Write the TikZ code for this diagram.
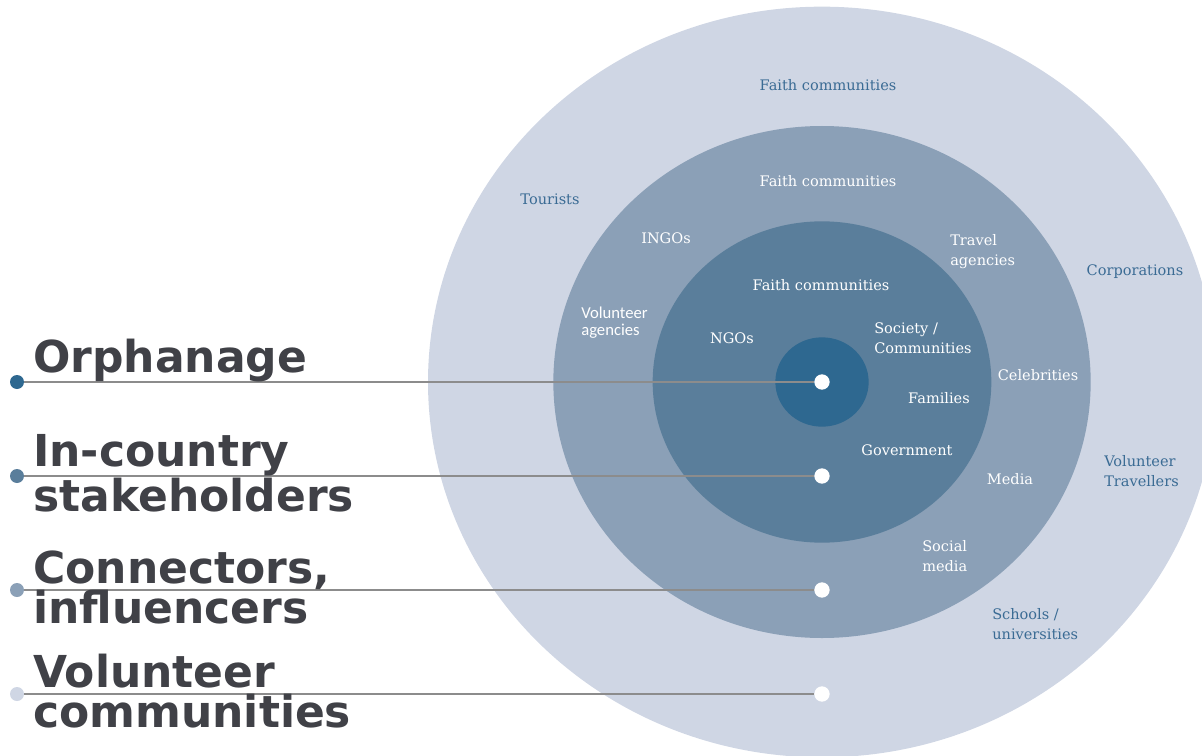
\documentclass[tikz,border=0pt]{standalone}
\usepackage{fontspec}
\setmainfont{DejaVu Serif}
\newfontfamily\headfont{DejaVu Sans}
\newfontfamily\sansfont{Carlito}
\usetikzlibrary{positioning}

\definecolor{core}{HTML}{2E6890}
\definecolor{inring}{HTML}{5A7E9B}
\definecolor{midring}{HTML}{8BA0B7}
\definecolor{outring}{HTML}{CFD6E4}
\definecolor{outtext}{HTML}{3A6B94}
\definecolor{headgray}{HTML}{404147}
\definecolor{linegray}{HTML}{8C8C8C}

\tikzset{
  lvl/.style={circle, fill=#1, minimum size=10.5pt, inner sep=0pt},
  hub/.style={circle, fill=white, minimum size=11.5pt, inner sep=0pt},
  lvlline/.style={linegray, line width=1.1pt},
  head/.style={anchor=base west, inner sep=0pt, align=left, text=headgray,
    font=\headfont\bfseries\fontsize{33}{30}\selectfont},
  who/.style={inner sep=0pt, align=left, font=\fontsize{10.9}{15}\selectfont},
  whoin/.style={who, text=white},
  whoout/.style={who, text=outtext}
}

\begin{document}
\begin{tikzpicture}[x=0.75pt, y=-0.75pt]
\useasboundingbox (0,0) rectangle (1202,756);
\clip (0,0) rectangle (1202,756);

% rings, outside in
\fill[outring] (822,382) ellipse [x radius=295.5pt, y radius=281.5pt];
\fill[midring] (822,382) ellipse [x radius=201.5pt, y radius=192pt];
\fill[inring] (822,382) ellipse [x radius=127pt, y radius=120.5pt];
\fill[core] (822,382) ellipse [x radius=35pt, y radius=33.5pt];

% outer ring
\node[whoout] (faith3) at (828,85) {Faith communities};
\node[whoout] (tourists) at (550,199) {Tourists};
\node[whoout] (corp) at (1135,272) {Corporations};
\node[whoout, anchor=west] (voltrav) at (1104,471) {Volunteer\\Travellers};
\node[whoout, anchor=west] (schools) at (992,624) {Schools /\\universities};

% middle ring
\node[whoin] (faith2) at (828,181) {Faith communities};
\node[whoin] (ingos) at (666,238) {INGOs};
\node[whoin, anchor=west, font=\sansfont\fontsize{12.5}{12.8}\selectfont] (volag) at (581,323) {Volunteer\\agencies};
\node[whoin, anchor=west] (travel) at (950,252) {Travel\\agencies};
\node[whoin] (celeb) at (1038,375) {Celebrities};
\node[whoin] (media) at (1010,479) {Media};
\node[whoin, anchor=west] (social) at (922,556) {Social\\media};

% inner ring
\node[whoin] (faith1) at (821,285) {Faith communities};
\node[whoin] (ngos) at (732,338) {NGOs};
\node[whoin, anchor=west] (society) at (874,338) {Society /\\Communities};
\node[whoin] (families) at (939,398) {Families};
\node[whoin] (govt) at (907,450) {Government};

% legend dots and the hubs they point at
\node[lvl=core] (orph) at (17,382) {};
\node[lvl=inring] (incountry) at (17,476) {};
\node[lvl=midring] (connect) at (17,590) {};
\node[lvl=outring] (volcomm) at (17,694) {};
\node[hub] (orph-hub) at (822,382) {};
\node[hub] (incountry-hub) at (822,476) {};
\node[hub] (connect-hub) at (822,590) {};
\node[hub] (volcomm-hub) at (822,694) {};

\draw[lvlline] (orph) -- (orph-hub);
\draw[lvlline] (incountry) -- (incountry-hub);
\draw[lvlline] (connect) -- (connect-hub);
\draw[lvlline] (volcomm) -- (volcomm-hub);

% headings, anchored on their last line
\node[head] (orph-txt) at (33,372) {Orphanage};
\node[head] (incountry-txt) at (33,511) {In-country\\stakeholders};
\node[head] (connect-txt) at (33,623) {Connectors,\\influencers};
\node[head] (volcomm-txt) at (33,727) {Volunteer\\communities};
\end{tikzpicture}
\end{document}
